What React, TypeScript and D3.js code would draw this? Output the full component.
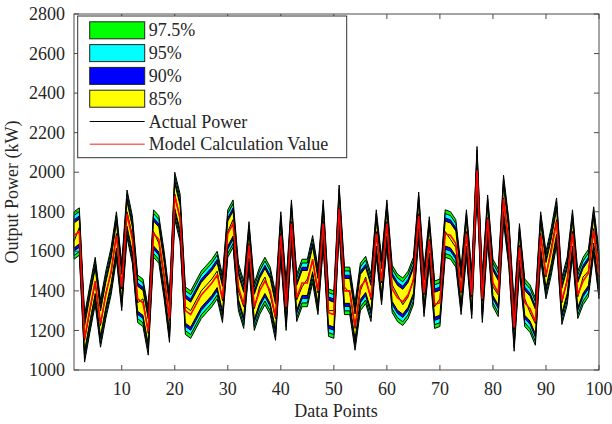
import React from "react";
import * as d3 from "d3";

const modelValues = [
  1680, 1700, 1160, 1310, 1450, 1235, 1380, 1500, 1680, 1420,
  1790, 1660, 1360, 1340, 1195, 1690, 1660, 1480, 1260, 1880,
  1770, 1300, 1280, 1330, 1380, 1410, 1440, 1480, 1360, 1690,
  1740, 1420, 1330, 1630, 1320, 1400, 1450, 1400, 1270, 1680,
  1320, 1740, 1365, 1440, 1440, 1560, 1400, 1740, 1290, 1280,
  1815, 1400, 1400, 1220, 1420, 1455, 1365, 1690, 1450, 1740,
  1410, 1365, 1345, 1380, 1450, 1780, 1390, 1655, 1330, 1340,
  1690, 1680, 1640, 1400, 1690, 1380, 2010, 1360, 1765, 1440,
  1390, 1865, 1640, 1215, 1620, 1340, 1310, 1245, 1680, 1480,
  1600, 1750, 1350, 1450, 1690, 1380, 1450, 1490, 1705, 1480,
];

const actualValues = [
  1650, 1720, 1150, 1300, 1440, 1225, 1390, 1490, 1690, 1410,
  1800, 1680, 1340, 1360, 1185, 1700, 1640, 1470, 1250, 1890,
  1760, 1320, 1300, 1350, 1400, 1430, 1460, 1500, 1350, 1700,
  1760, 1400, 1320, 1640, 1310, 1420, 1470, 1380, 1260, 1690,
  1310, 1750, 1355, 1420, 1460, 1550, 1390, 1750, 1300, 1300,
  1820, 1420, 1390, 1210, 1400, 1470, 1355, 1700, 1440, 1750,
  1430, 1380, 1330, 1370, 1460, 1790, 1380, 1660, 1320, 1360,
  1700, 1660, 1620, 1390, 1700, 1370, 2020, 1350, 1770, 1420,
  1380, 1870, 1620, 1205, 1630, 1360, 1290, 1235, 1690, 1470,
  1620, 1760, 1340, 1460, 1700, 1370, 1470, 1500, 1715, 1470,
];

const bandLabels = ["97.5%", "95%", "90%", "85%"];
const bandHalfWidths = [120, 101, 79, 63];
const bandColors = ["#00ff00", "#00ffff", "#0000ff", "#ffff00"];

const xTicks = [10, 20, 30, 40, 50, 60, 70, 80, 90, 100];
const yTicks = [1000, 1200, 1400, 1600, 1800, 2000, 2200, 2400, 2600, 2800];

const W = 612;
const H = 424;
const M = { left: 74, right: 599, top: 14, bottom: 370 };
const FONT = "'Liberation Serif', 'Times New Roman', serif";
const AX = "#4a4a4a";
const TXT = "#262626";

export default function App() {
  const idx = d3.range(1, modelValues.length + 1);
  const x = d3.scaleLinear().domain([1, 100]).range([M.left, M.right]);
  const y = d3.scaleLinear().domain([1000, 2800]).range([M.bottom, M.top]);

  const line = d3
    .line<number>()
    .x((_, i) => x(idx[i]))
    .y((d) => y(d));

  const bandPaths = bandHalfWidths.map((hw) =>
    d3
      .area<number>()
      .x((_, i) => x(idx[i]))
      .y0((d) => y(d - hw))
      .y1((d) => y(d + hw))(modelValues)
  );

  const tickLen = 5;
  const rowY = (k: number) => 30.3 + k * 22.8;

  return (
    <svg
      width={W}
      height={H}
      style={{ position: "absolute", left: 0, top: 0, background: "#fff" }}
      fontFamily={FONT}
    >
      <rect x={0} y={0} width={W} height={H} fill="#fff" />
      {bandPaths.map((p, k) => (
        <path
          key={k}
          d={p || ""}
          fill={bandColors[k]}
          stroke="#000"
          strokeWidth={1}
          strokeLinejoin="miter"
        />
      ))}
      <path d={line(actualValues) || ""} fill="none" stroke="#000" strokeWidth={1} />
      <path d={line(modelValues) || ""} fill="none" stroke="#ff0000" strokeWidth={1.6} />

      <rect
        x={M.left}
        y={M.top}
        width={M.right - M.left}
        height={M.bottom - M.top}
        fill="none"
        stroke={AX}
        strokeWidth={1}
      />
      {xTicks.map((t) => (
        <g key={"x" + t}>
          <line x1={x(t)} x2={x(t)} y1={M.bottom} y2={M.bottom - tickLen} stroke={AX} />
          <line x1={x(t)} x2={x(t)} y1={M.top} y2={M.top + tickLen} stroke={AX} />
          <text x={x(t)} y={395} textAnchor="middle" fontSize={18} fill={TXT}>
            {t}
          </text>
        </g>
      ))}
      {yTicks.map((t) => (
        <g key={"y" + t}>
          <line x1={M.left} x2={M.left + tickLen} y1={y(t)} y2={y(t)} stroke={AX} />
          <line x1={M.right} x2={M.right - tickLen} y1={y(t)} y2={y(t)} stroke={AX} />
          <text x={65} y={y(t)} dy="0.34em" textAnchor="end" fontSize={18} fill={TXT}>
            {t}
          </text>
        </g>
      ))}
      <text x={336} y={417} textAnchor="middle" fontSize={18} fill={TXT}>
        Data Points
      </text>
      <text
        transform={`translate(18, ${(M.top + M.bottom) / 2}) rotate(-90)`}
        textAnchor="middle"
        fontSize={18}
        fill={TXT}
      >
        Output Power (kW)
      </text>

      <rect x={77.7} y={16} width={269} height={141.7} fill="#fff" stroke="#333" strokeWidth={1} />
      {bandLabels.map((lab, k) => (
        <g key={lab}>
          <rect
            x={89.7}
            y={rowY(k) - 8.5}
            width={55}
            height={17}
            fill={bandColors[k]}
            stroke="#222"
            strokeWidth={1}
          />
          <text x={148.7} y={rowY(k)} dy="0.34em" fontSize={18} fill={TXT}>
            {lab}
          </text>
        </g>
      ))}
      <line x1={89.7} x2={144.7} y1={rowY(4)} y2={rowY(4)} stroke="#000" strokeWidth={1} />
      <text x={148.7} y={rowY(4)} dy="0.34em" fontSize={18} fill={TXT}>
        Actual Power
      </text>
      <line x1={89.7} x2={144.7} y1={rowY(5)} y2={rowY(5)} stroke="#ff6666" strokeWidth={1.5} />
      <text x={148.7} y={rowY(5)} dy="0.34em" fontSize={18} fill={TXT}>
        Model Calculation Value
      </text>
    </svg>
  );
}
